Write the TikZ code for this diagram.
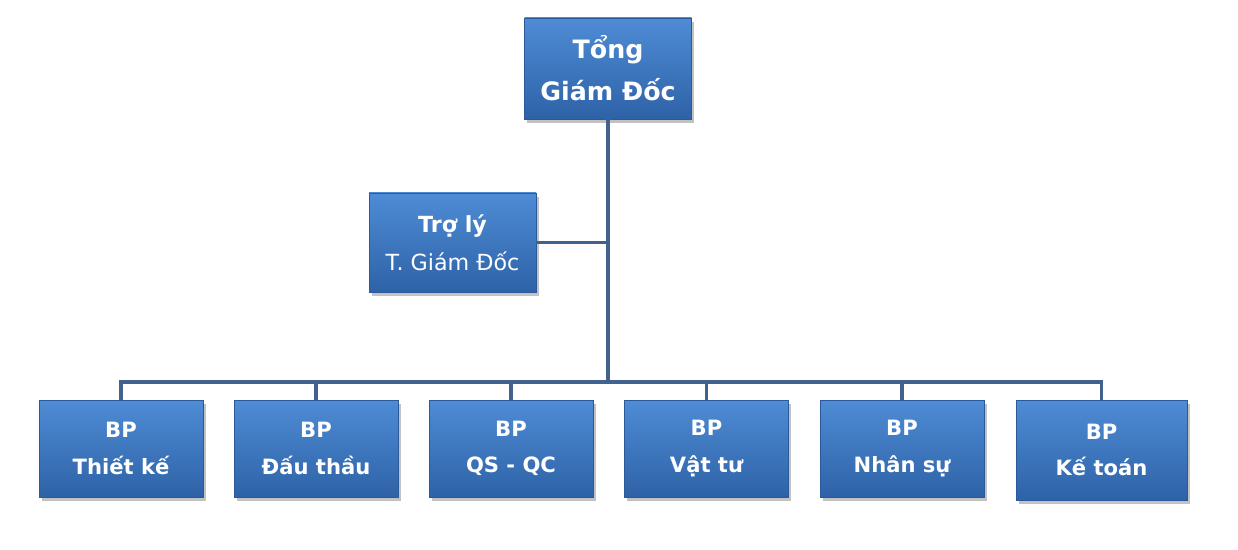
\documentclass[tikz,border=0pt]{standalone}
\usepackage{fontspec}
\setmainfont{DejaVu Sans}
\usetikzlibrary{shadows}
\definecolor{boxtop}{HTML}{4E8CD5}
\definecolor{boxbot}{HTML}{2E62A7}
\definecolor{boxedge}{HTML}{2A5A9A}
\definecolor{linec}{HTML}{41628F}
\tikzset{
  orgbox/.style={rectangle, draw=boxedge, line width=0.6pt, top color=boxtop, bottom color=boxbot,
    text=white, align=center, font=\bfseries\fontsize{15}{26}\selectfont,
    minimum width=4.1cm, minimum height=2.425cm, inner sep=0pt,
    drop shadow={shadow xshift=2pt, shadow yshift=-2.5pt, opacity=0.4, fill=black!60}},
  conn/.style={draw=linec, line width=2.8pt}
}
\begin{document}
\begin{tikzpicture}
\useasboundingbox (0,0) rectangle (30.95,-13.75);
\node[orgbox, minimum width=4.175cm, minimum height=2.525cm, font=\bfseries\fontsize{18}{30}\selectfont] (top) at (15.2,-1.7125) {Tổng\\Giám Đốc};
\node[orgbox, minimum width=4.175cm, minimum height=2.475cm, font=\fontsize{15.8}{27}\selectfont] (asst) at (11.3125,-6.0625) {\textbf{Trợ lý}\\T. Giám Đốc};
\node[orgbox] (b1) at (3.025,-11.2125) {BP\\Thiết kế};
\node[orgbox] (b2) at (7.9,-11.2125) {BP\\Đấu thầu};
\node[orgbox] (b3) at (12.775,-11.2125) {BP\\QS - QC};
\node[orgbox] (b4) at (17.6625,-11.2125) {BP\\Vật tư};
\node[orgbox] (b5) at (22.55,-11.2125) {BP\\Nhân sự};
\node[orgbox, minimum width=4.275cm, minimum height=2.5cm] (b6) at (27.5375,-11.25) {BP\\Kế toán};
\coordinate (bus) at (15.2,-9.55);
\draw[conn] (top.south) -- (bus);
\draw[conn] (asst.east) -- (asst.east -| top.south);
\draw[conn] (b1.north) |- (bus) -| (b6.north);
\draw[conn] (b2.north) -- (b2.north |- bus);
\draw[conn] (b3.north) -- (b3.north |- bus);
\draw[conn] (b4.north) -- (b4.north |- bus);
\draw[conn] (b5.north) -- (b5.north |- bus);
\end{tikzpicture}
\end{document}
